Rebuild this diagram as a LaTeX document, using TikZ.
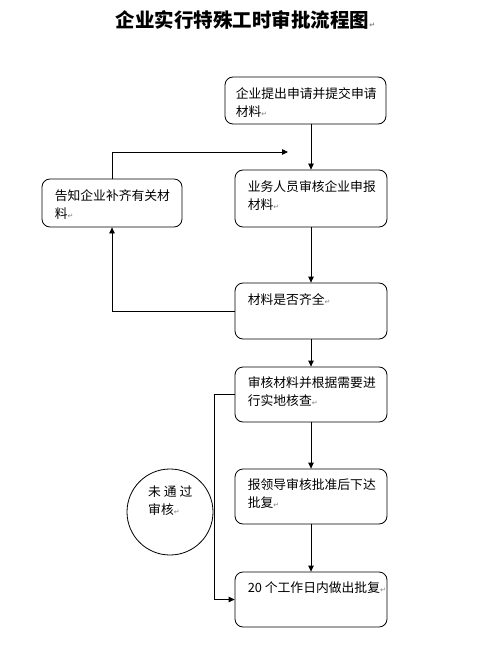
\documentclass[tikz,border=0pt]{standalone}
\usepackage{fontspec}
\setmainfont{Noto Sans CJK SC}
\newfontfamily\markfont{DejaVu Sans}
\usetikzlibrary{arrows.meta, positioning}
\newcommand{\parmk}{{\markfont\fontsize{7}{7}\selectfont\color{gray}↵}}

\begin{document}
\begin{tikzpicture}[x=1pt, y=-1pt,
    procbox/.style={draw, line width=0.8pt, rounded corners=8pt,
      minimum width=152pt, minimum height=56pt, inner sep=0pt},
    boxtext/.style={anchor=north west, inner sep=0pt, align=left,
      font=\fontsize{12.8}{18}\selectfont},
    flow/.style={line width=0.8pt, -{Triangle[length=6pt,width=5.5pt]}}]
    \useasboundingbox (0,0) rectangle (488,652);
    \node[font=\bfseries\fontsize{19.5}{20}\selectfont] (title) at (245.5,20)
      {企业实行特殊工时审批流程图\parmk};

    % main column
    \node[procbox, minimum width=161pt, minimum height=47pt](apply) at (305.5,100.5){};
    \node[boxtext] at ([shift={(11,11)}]apply.north west){企业提出申请并提交申请\\材料\parmk};
    \node[procbox, minimum height=57pt](check) at (311,198.5){};
    \node[boxtext] at ([shift={(13,11)}]check.north west){业务人员审核企业申报\\材料\parmk};
    \node[procbox](complete) at (311,311){};
    \node[boxtext] at ([shift={(13,11)}]complete.north west){材料是否齐全\parmk};
    \node[procbox, minimum height=55pt](verify) at (311,394.5){};
    \node[boxtext] at ([shift={(13,10)}]verify.north west){审核材料并根据需要进\\行实地核查\parmk};
    \node[procbox, minimum height=55pt](approve) at (311,496.5){};
    \node[boxtext] at ([shift={(13,10)}]approve.north west){报领导审核批准后下达\\批复\parmk};
    \node[procbox, minimum height=55pt](reply) at (311,599.5){};
    \node[boxtext] at ([shift={(13,10)}]reply.north west){20 个工作日内做出批复\parmk};

    % side branch
    \node[procbox, minimum width=140pt, minimum height=48pt](notify) at (112,203){};
    \node[boxtext] at ([shift={(13,11)}]notify.north west){告知企业补齐有关材\\料\parmk};
    \node[draw, circle, line width=0.8pt, minimum size=86pt, inner sep=0pt](reject) at (170,512){};
    \node[boxtext] at ([shift={(-22,-26)}]reject.center){未 通 过\\审核\parmk};

    \coordinate (back) at (288,152);
    \draw[flow] (apply.south -| check.north) -- (check.north);
    \draw[flow] (notify.north) |- (back);
    \draw[flow] (check.south) -- (complete.north);
    \draw[flow] (complete.west) -| (notify.south);
    \draw[flow] (complete.south) -- (verify.north);
    \draw[flow] (verify.west) -- ++(-20,0) |- (reply.west);
    \draw[flow] (verify.south) -- (approve.north);
    \draw[flow] (approve.south) -- (reply.north);
\end{tikzpicture}
\end{document}
